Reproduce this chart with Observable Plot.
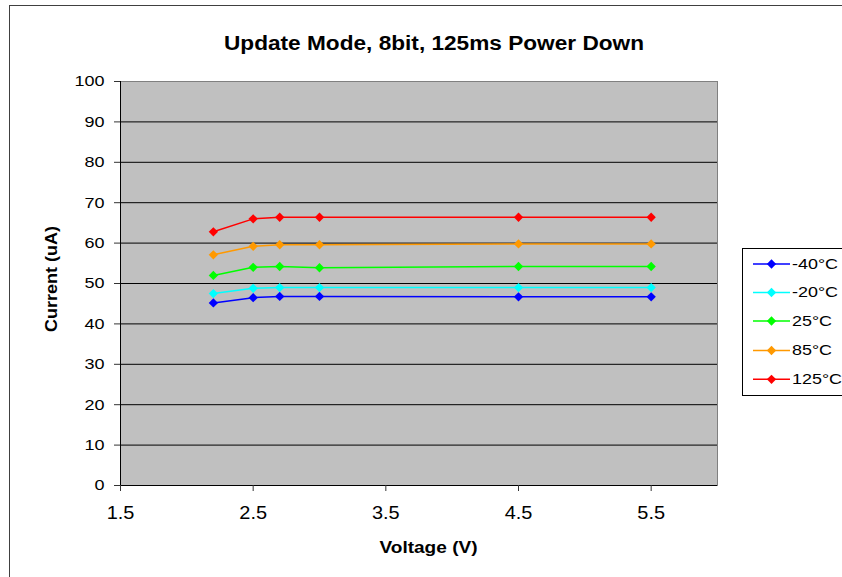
<!DOCTYPE html>
<html>
<head>
<meta charset="utf-8">
<script src="https://cdn.jsdelivr.net/npm/d3@7"></script>
<script src="https://cdn.jsdelivr.net/npm/@observablehq/plot@0.6"></script>
<style>
  html, body { margin: 0; padding: 0; background: white; }
  #chart { position: relative; width: 842px; height: 577px; overflow: hidden; }
</style>
</head>
<body>
<div id="chart"></div>
<script>
// ---- data ----
const voltage = [2.2, 2.5, 2.7, 3.0, 4.5, 5.5];
const seriesNames = ["-40°C", "-20°C", "25°C", "85°C", "125°C"];
const seriesColors = ["#0000FF", "#00FFFF", "#00FF00", "#FF9900", "#FF0000"];
const currentM40 = [45.2, 46.5, 46.8, 46.8, 46.7, 46.7];
const currentM20 = [47.5, 48.8, 49.0, 49.0, 49.0, 49.0];
const current25 = [52.0, 54.0, 54.2, 53.9, 54.2, 54.2];
const current85 = [57.1, 59.2, 59.6, 59.6, 59.8, 59.8];
const current125 = [62.8, 66.0, 66.4, 66.4, 66.4, 66.4];
const xTicks = [1.5, 2.5, 3.5, 4.5, 5.5];
const yTicks = [0, 10, 20, 30, 40, 50, 60, 70, 80, 90, 100];
const gridTicks = [10, 20, 30, 40, 50, 60, 70, 80, 90];
const titleText = "Update Mode, 8bit, 125ms Power Down";
const xLabel = "Voltage (V)";
const yLabel = "Current (uA)";

const seriesValues = [currentM40, currentM20, current25, current85, current125];
const rows = [];
seriesNames.forEach((s, k) => {
  voltage.forEach((v, j) => rows.push({s, v, i: seriesValues[k][j]}));
});

const font = "'Liberation Sans', Arial, sans-serif";
const markerR = 4.2;

const plot = Plot.plot({
  width: 842,
  height: 577,
  marginLeft: 120,
  marginRight: 125,
  marginTop: 81,
  marginBottom: 92,
  style: {fontFamily: font, background: "white", color: "black", overflow: "hidden"},
  x: {domain: [1.5, 6]},
  y: {domain: [0, 100]},
  color: {domain: seriesNames, range: seriesColors},
  marks: [
    Plot.frame({fill: "#C0C0C0", stroke: "#808080"}),
    Plot.gridY(gridTicks, {stroke: "black", strokeOpacity: 1}),
    Plot.ruleX([1.5], {stroke: "black"}),
    Plot.ruleY([0], {stroke: "black"}),
    Plot.axisX(xTicks, {tickSize: 6, tickPadding: 14, fontSize: 19, tickFormat: d => d.toFixed(1), label: null, stroke: "#333"}),
    Plot.axisY(yTicks, {tickSize: 6, tickPadding: 10, fontSize: 15, label: null, stroke: "#333"}),
    Plot.line(rows, {x: "v", y: "i", z: "s", stroke: "s", strokeWidth: 1.5}),
    Plot.dot(rows, {x: "v", y: "i", fill: "s", symbol: "diamond2", r: markerR})
  ]
});

document.getElementById("chart").appendChild(plot);
const svg = d3.select(plot);

function stretch(sel, k) {
  sel.each(function () {
    const len = this.getComputedTextLength();
    if (len > 0) {
      this.setAttribute("textLength", len * k);
      this.setAttribute("lengthAdjust", "spacingAndGlyphs");
    }
  });
}
stretch(svg.selectAll("g[aria-label='y-axis tick label'] text"), 1.2);
stretch(svg.selectAll("g[aria-label='x-axis tick label'] text"), 1.05);

// outer chart border (top and left visible)
svg.append("rect")
  .attr("x", 9.5).attr("y", 5.5).attr("width", 900).attr("height", 700)
  .attr("fill", "none").attr("stroke", "#404040").attr("stroke-width", 1);

// title and axis labels
svg.append("text")
  .attr("x", 434).attr("y", 50).attr("text-anchor", "middle")
  .attr("font-family", font).attr("font-weight", "bold").attr("font-size", 19.5)
  .attr("fill", "black").attr("textLength", 420).attr("lengthAdjust", "spacingAndGlyphs")
  .text(titleText);

svg.append("text")
  .attr("x", 428.5).attr("y", 553.3).attr("text-anchor", "middle")
  .attr("font-family", font).attr("font-weight", "bold").attr("font-size", 16)
  .attr("fill", "black").attr("textLength", 98).attr("lengthAdjust", "spacingAndGlyphs")
  .text(xLabel);

svg.append("text")
  .attr("transform", "translate(57,279) rotate(-90)").attr("text-anchor", "middle")
  .attr("font-family", font).attr("font-weight", "bold").attr("font-size", 16.5)
  .attr("fill", "black").attr("textLength", 106).attr("lengthAdjust", "spacingAndGlyphs")
  .text(yLabel);

// legend
const lg = svg.append("g").attr("text-anchor", "start");
lg.append("rect").attr("x", 742.5).attr("y", 248.5).attr("width", 130).attr("height", 147)
  .attr("fill", "white").attr("stroke", "black").attr("stroke-width", 1);
const rowY = [264, 292.5, 321, 350.5, 379.3];
const sym = d3.symbol(d3.symbolDiamond2, Math.PI * markerR * markerR);
seriesNames.forEach((name, k) => {
  const y = rowY[k];
  lg.append("line").attr("x1", 753).attr("x2", 790).attr("y1", y).attr("y2", y)
    .attr("stroke", seriesColors[k]).attr("stroke-width", 1.5);
  lg.append("path").attr("d", sym()).attr("transform", `translate(771.5,${y})`)
    .attr("fill", seriesColors[k]);
  const tx = lg.append("text").attr("x", 792).attr("y", y + 4.8).attr("text-anchor", "start")
    .attr("font-family", font).attr("font-size", 14).attr("fill", "black").text(name);
  stretch(tx, 1.28);
});
</script>
</body>
</html>
